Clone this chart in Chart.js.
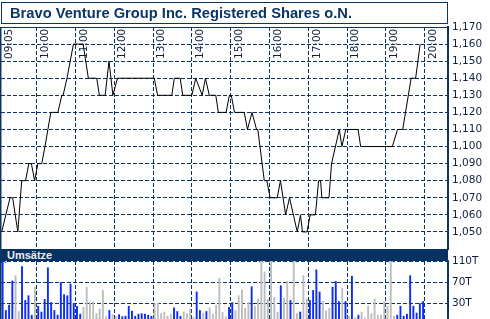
<!DOCTYPE html>
<html>
<head>
<meta charset="utf-8">
<script src="https://cdn.jsdelivr.net/npm/chart.js@4.4.0/dist/chart.umd.min.js"></script>
<style>
  body { margin: 0; background: #fff; }
  #wrap { position: relative; width: 490px; height: 319px; overflow: hidden; }
  canvas { position: absolute; left: 0; top: 0; }
  #title {
    position: absolute; left: 1px; top: 2px; width: 437px; height: 20px;
    border: 1px solid #0c3466; padding-left: 8px;
    font: bold 14.7px "Liberation Sans", Arial, sans-serif; line-height: 21px;
    color: #0c3466; white-space: nowrap;
  }
  #umsatz {
    position: absolute; left: 0; top: 249px; width: 441px; height: 12px; padding-left: 7px;
    background: #063263; color: #ececec;
    font: bold 11px "Liberation Sans", Arial, sans-serif; line-height: 13px;
  }
</style>
</head>
<body>
<div id="wrap">
  <canvas id="priceChart" width="490" height="319"></canvas>
  <canvas id="volChart" width="490" height="319"></canvas>
  <div id="title">Bravo Venture Group Inc. Registered Shares o.N.</div>
  <div id="umsatz">Umsätze</div>
</div>
<script>
// price (intraday, time -> price)
const priceTimes = ['09:06','09:19','09:23','09:31','09:37','09:43','09:48','09:52','09:57','10:02',
  '10:08','10:13','10:22','10:33','10:39','10:41','10:47','10:52','10:57','11:12',
  '11:20','11:33','11:37','11:46','11:52','11:58','12:05','13:02','13:07','13:29',
  '13:33','13:42','13:46','14:00','14:06','14:16','14:21','14:27','14:37','14:41',
  '14:53','14:58','15:01','15:06','15:21','15:26','15:33','15:40','15:42','15:52',
  '15:56','16:01','16:12','16:17','16:25','16:31','16:43','16:48','16:51','16:58',
  '17:03','17:11','17:16','17:19','17:21','17:32','17:36','17:48','17:52','17:58',
  '18:17','18:21','19:10','19:18','19:26','19:39','19:46','19:53'];
const priceValues = [1050,1070,1070,1050,1080,1080,1090,1090,1080,1090,
  1090,1100,1120,1120,1130,1130,1140,1150,1160,1160,
  1140,1140,1130,1130,1150,1130,1140,1140,1130,1130,
  1140,1140,1130,1130,1140,1130,1140,1130,1130,1120,
  1120,1130,1130,1120,1120,1110,1120,1110,1110,1080,
  1080,1070,1070,1080,1060,1070,1050,1060,1050,1050,
  1060,1060,1080,1080,1070,1070,1090,1110,1100,1110,
  1110,1100,1100,1110,1110,1140,1140,1160];

// volume in thousand shares, one bar per 5 minutes from 09:05
const volStart = '09:05';
const volStep = 5;
const volValues = [130,16,26,72,82,14,99,35,44,7, 60,24,13,37,97,31,16,7,69,46,
  44,66,29,24,9,22,60,31,32,10, 19,54,4,16,8,5,8,4,5,24,
  15,5,9,10,9,7,5,29,30,10, 13,5,9,21,14,5,13,10,19,3,
  51,16,11,14,21,9,26,77,12,4, 22,31,16,44,55,20,31,61,24,37,
  130,89,37,130,41,13,63,39,71,35, 130,10,13,82,38,35,54,93,51,33,
  15,20,60,71,33,58,33,5,81,2, 7,13,2,24,10,38,7,7,32,24,
  130,5,7,24,5,9,82,24,11,29, 33];
const volKind = ('bbbbggbbbb' + 'gbbbbbbbbb' + 'bbbbbggggg' + 'gggbggbbbb' + 'bbbbbbbggg' +
  'gggbbbgggg' + 'bbgbgggggg' + 'bbgggggbgg' + 'ggggggbggb' + 'ggbggbbbbg' +
  'ggbbbgbgbg' + 'bggggggggg' + 'ggbbbbbbbbb').split('');

const timeLabels = ['09:05','10:00','11:00','12:00','13:00','14:00','15:00','16:00','17:00','18:00','19:00','20:00'];
const priceTicks = [1170,1160,1150,1140,1130,1120,1110,1100,1090,1080,1070,1060,1050];
const volTicks = [30, 70, 110];

const NAVY = '#0c3466';
const BLUE = '#0a2cff';
const GREY = '#bdbdbd';
const X_MIN = 545, X_MAX = 1236;

function toMin(t) {
  const p = t.split(':');
  return +p[0] * 60 + +p[1];
}
const hourTicks = timeLabels.slice(1).map(toMin);

const framePlugin = {
  id: 'frame',
  afterDraw(chart) {
    const a = chart.chartArea, ctx = chart.ctx;
    ctx.save();
    ctx.fillStyle = NAVY;
    ctx.fillRect(0, a.top, 1.5, a.bottom - a.top);
    if (chart.canvas.id === 'priceChart') ctx.fillRect(0, a.top, a.right, 1);
    ctx.restore();
  }
};

const timeLabelPlugin = {
  id: 'timeLabels',
  afterDraw(chart) {
    const xs = chart.scales.x, ctx = chart.ctx;
    ctx.save();
    ctx.fillStyle = '#102040';
    ctx.font = '10.5px "DejaVu Sans"';
    ctx.textAlign = 'left';
    ctx.textBaseline = 'middle';
    timeLabels.forEach(t => {
      ctx.save();
      ctx.translate(xs.getPixelForValue(toMin(t)) + 8.5, 59);
      ctx.rotate(-Math.PI / 2);
      ctx.fillText(t, 0, 0);
      ctx.restore();
    });
    ctx.restore();
  }
};

const clipArrowPlugin = {
  id: 'clipArrows',
  afterDatasetsDraw(chart) {
    const ys = chart.scales.y, ctx = chart.ctx;
    const meta = chart.getDatasetMeta(0);
    ctx.save();
    ctx.lineWidth = 1;
    meta.data.forEach((bar, i) => {
      if (volValues[i] <= ys.max) return;
      const x = Math.round(bar.x) + 0.5, top = chart.chartArea.top - 1;
      ctx.strokeStyle = volKind[i] === 'b' ? BLUE : GREY;
      ctx.beginPath();
      ctx.moveTo(x - 2.5, top + 3);
      ctx.lineTo(x, top);
      ctx.lineTo(x + 2.5, top + 3);
      ctx.stroke();
    });
    ctx.restore();
  }
};

function xScale() {
  return {
    type: 'linear', min: X_MIN, max: X_MAX, offset: false,
    afterBuildTicks: s => { s.ticks = hourTicks.map(v => ({ value: v })); },
    afterFit: s => { s.height = 0; s.paddingLeft = 0; s.paddingRight = 0; },
    ticks: { display: false },
    grid: { color: NAVY, lineWidth: 1, drawTicks: false, offset: false },
    border: { display: false, dash: [4, 2] }
  };
}

function yFit(s) {
  s.width = 42;
  s.paddingTop = 0;
  s.paddingBottom = 0;
}

const tickFont = { family: '"DejaVu Sans"', size: 10.5 };

new Chart(document.getElementById('priceChart'), {
  type: 'line',
  data: {
    datasets: [{
      data: priceTimes.map((t, i) => ({ x: toMin(t), y: priceValues[i] })),
      borderColor: '#000',
      borderWidth: 1,
      pointRadius: 0,
      tension: 0
    }]
  },
  options: {
    responsive: false,
    animation: false,
    devicePixelRatio: 1,
    layout: { padding: { left: 1, top: 27, right: 0, bottom: 70 } },
    plugins: { legend: { display: false }, tooltip: { enabled: false } },
    scales: {
      x: xScale(),
      y: {
        position: 'right', min: 1040, max: 1170,
        afterBuildTicks: s => { s.ticks = priceTicks.map(v => ({ value: v })); },
        afterFit: yFit,
        ticks: {
          color: '#102040', font: tickFont, padding: 4,
          callback: v => v.toLocaleString('en-US')
        },
        grid: { color: NAVY, lineWidth: 1, drawTicks: false },
        border: { display: true, color: NAVY, width: 2, dash: [4, 2] }
      }
    }
  },
  plugins: [framePlugin, timeLabelPlugin]
});

new Chart(document.getElementById('volChart'), {
  type: 'bar',
  data: {
    datasets: [{
      data: volValues.map((v, i) => ({ x: toMin(volStart) + i * volStep + volStep / 2, y: v })),
      backgroundColor: volKind.map(k => k === 'b' ? BLUE : GREY),
      barThickness: 1,
      inflateAmount: 0.45,
      grouped: false
    }]
  },
  options: {
    responsive: false,
    animation: false,
    devicePixelRatio: 1,
    layout: { padding: { left: 1, top: 261, right: 0, bottom: 0 } },
    plugins: { legend: { display: false }, tooltip: { enabled: false } },
    scales: {
      x: xScale(),
      y: {
        position: 'right', min: 0, max: 110,
        afterBuildTicks: s => { s.ticks = volTicks.map(v => ({ value: v })); },
        afterFit: yFit,
        ticks: {
          color: '#102040', font: tickFont, padding: 4,
          callback: v => v + 'T'
        },
        grid: { color: NAVY, lineWidth: 1, drawTicks: false },
        border: { display: true, color: NAVY, width: 2, dash: [4, 2] }
      }
    }
  },
  plugins: [framePlugin, clipArrowPlugin]
});
</script>
</body>
</html>
